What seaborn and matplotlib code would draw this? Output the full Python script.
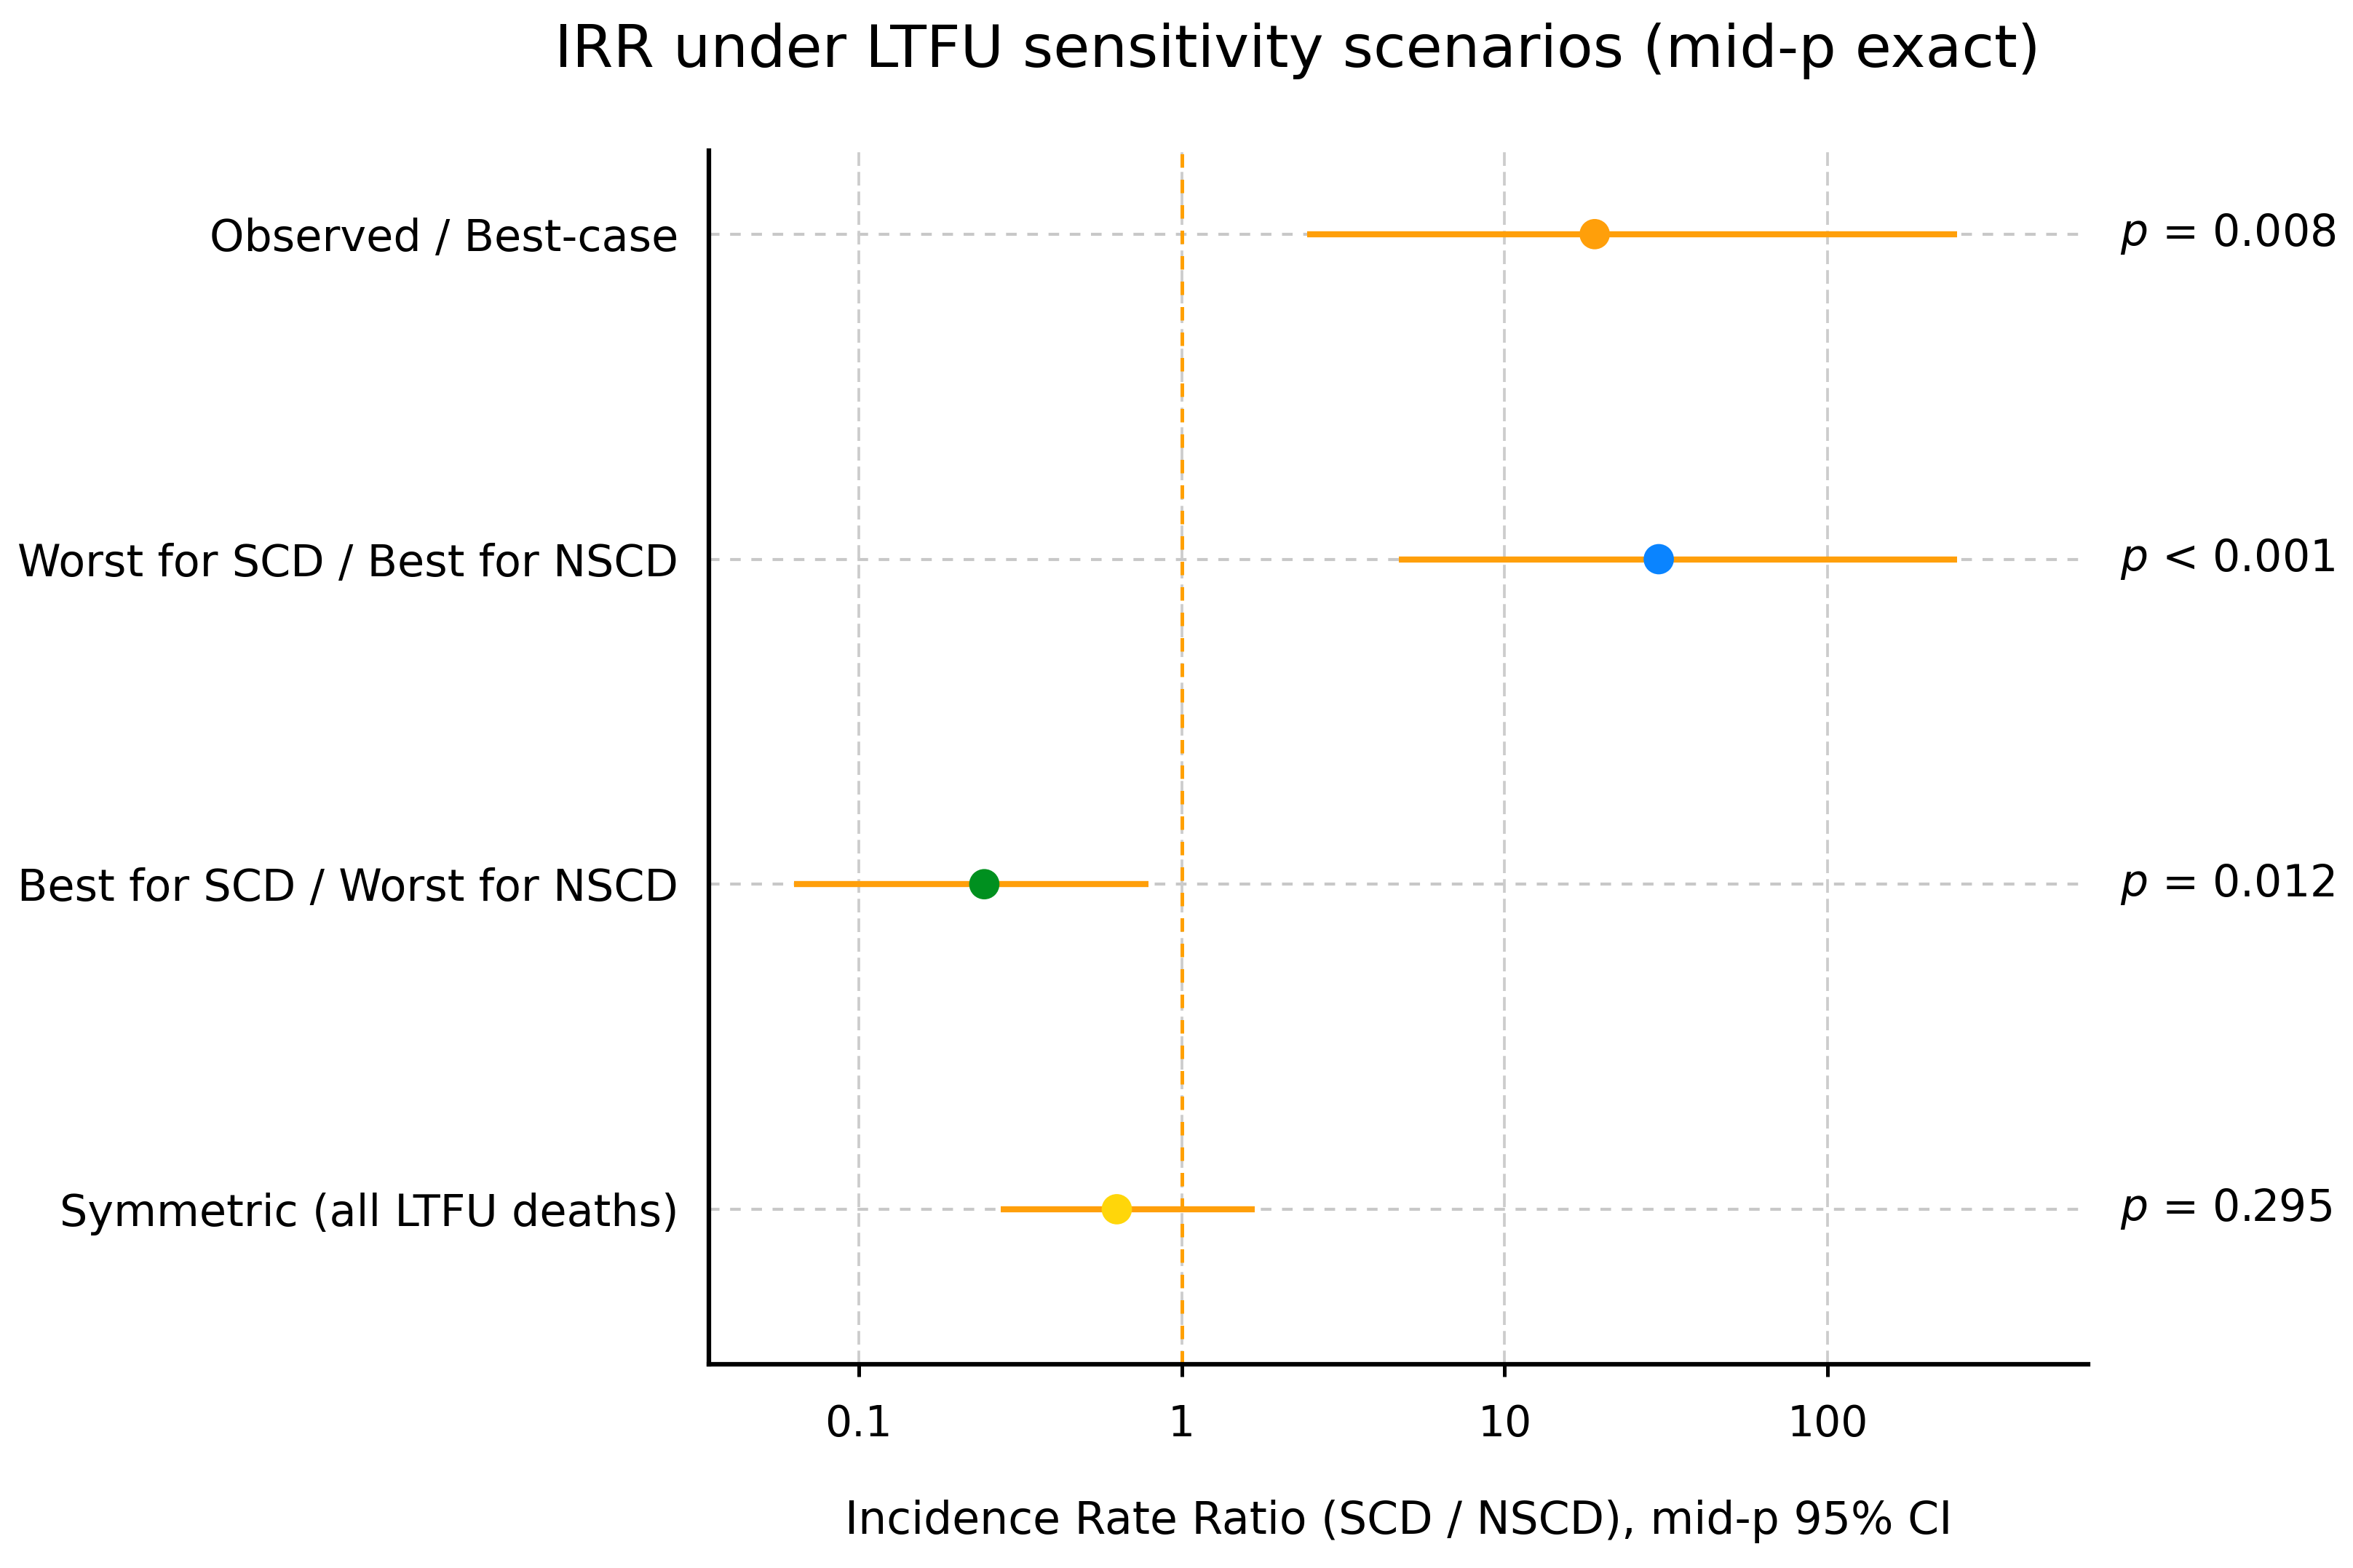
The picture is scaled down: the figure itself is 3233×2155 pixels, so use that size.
import numpy as np
import pandas as pd
import matplotlib
matplotlib.use("Agg")
import matplotlib.pyplot as plt
import matplotlib.transforms as mtransforms
from matplotlib.ticker import NullLocator
import seaborn as sns

scenarios = [
    "Observed / Best-case",
    "Worst for SCD / Best for NSCD",
    "Best for SCD / Worst for NSCD",
    "Symmetric (all LTFU deaths)",
]
irr = [19.0, 30.0, 0.245, 0.63]
ci_low = [2.45, 4.7, 0.063, 0.276]
ci_high = [252.0, 252.0, 0.79, 1.68]
p_labels = ["$p$ = 0.008", "$p$ < 0.001", "$p$ = 0.012", "$p$ = 0.295"]
point_colors = ["#ff9f0a", "#0a84ff", "#00901f", "#ffd60a"]
x_ticks = [0.1, 1, 10, 100]
x_ticklabels = ["0.1", "1", "10", "100"]

df = pd.DataFrame({
    "scenario": scenarios,
    "pos": np.arange(len(scenarios)),
    "irr": irr,
    "low": ci_low,
    "high": ci_high,
})

sns.set_style("white")
plt.rcParams["font.family"] = ["DejaVu Sans"]
plt.rcParams["text.color"] = "black"
plt.rcParams["axes.labelcolor"] = "black"
plt.rcParams["xtick.color"] = "black"
plt.rcParams["ytick.color"] = "black"

fig = plt.figure(figsize=(3233 / 300, 2155 / 300), dpi=300)
ax = fig.add_axes([974 / 3233, 1 - 1875 / 2155, (2869 - 974) / 3233, (1875 - 207) / 2155])

# row guide lines and vertical grid
for y in df["pos"]:
    ax.axhline(y, color="#c8c8c8", lw=1.0, ls=(0, (3.5, 3.5)), zorder=0)
for xt in x_ticks:
    ax.axvline(xt, color="#cccccc", lw=0.9, ls=(0, (5, 2.2)), zorder=0)

ax.axvline(1, color="#ffa000", lw=1.2, ls=(0, (3.7, 3.3)), zorder=1)

ax.hlines(df["pos"], df["low"], df["high"], color="#ff9f0a", lw=2.0, zorder=2)
sns.scatterplot(data=df, x="irr", y="pos", hue="scenario", palette=point_colors,
                s=100, linewidth=0, legend=False, zorder=3, ax=ax)

ax.set_xscale("log")
ax.set_xlim(0.0344, 640)
ax.set_ylim(3.477, -0.257)
ax.set_xticks(x_ticks)
ax.set_xticklabels(x_ticklabels)
ax.xaxis.set_minor_locator(NullLocator())
ax.set_yticks(df["pos"])
ax.set_yticklabels(scenarios)
ax.tick_params(axis="x", bottom=True, length=4, width=1.2, pad=9, labelsize=14)
ax.tick_params(axis="y", left=False, length=0, pad=10, labelsize=14.5)

for side in ["top", "right"]:
    ax.spines[side].set_visible(False)
for side in ["left", "bottom"]:
    ax.spines[side].set_color("black")
    ax.spines[side].set_linewidth(1.5)

ax.set_xlabel("Incidence Rate Ratio (SCD / NSCD), mid-p 95% CI", fontsize=14.8, labelpad=18)
ax.set_ylabel("")

trans = mtransforms.blended_transform_factory(ax.transAxes, ax.transData)
for y, lab in zip(df["pos"], p_labels):
    ax.text(1.023, y, lab, transform=trans, ha="left", va="center", fontsize=14.4)

fig.text(1783 / 3233, 1 - 92 / 2155, "IRR under LTFU sensitivity scenarios (mid-p exact)",
         ha="center", va="baseline", fontsize=19.5)

fig.savefig("out.png", dpi=300)
